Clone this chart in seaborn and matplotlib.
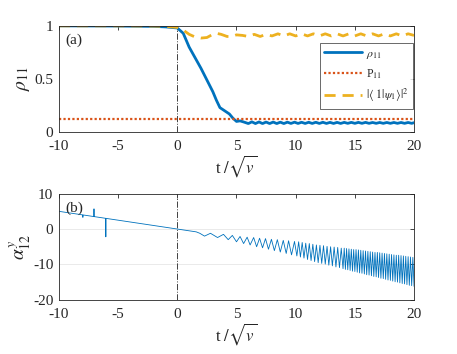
import numpy as np
import pandas as pd
import matplotlib
matplotlib.use("Agg")
import matplotlib.pyplot as plt
import seaborn as sns

# ---- panel (a) data ----
t_rho = [-10, -5, -2, -1, 0, 0.5, 1.0, 1.5, 2.0, 2.5, 3.0, 3.3, 3.6, 4.0, 4.4, 4.7, 5.0, 5.3, 5.6,
         6.0, 6.3, 6.6, 6.9, 7.2, 7.5, 7.8, 8.1, 8.4, 8.7, 9.0, 9.3, 9.6, 9.9, 10.2, 10.5, 10.8,
         11.1, 11.4, 11.7, 12.0, 12.3, 12.6, 12.9, 13.2, 13.5, 13.8, 14.1, 14.4, 14.7, 15.0,
         15.3, 15.6, 15.9, 16.2, 16.5, 16.8, 17.1, 17.4, 17.7, 18.0, 18.3, 18.6, 18.9, 19.2,
         19.5, 19.8, 20.0]
rho11 = [1.0, 0.998, 0.995, 0.99, 0.98, 0.93, 0.80, 0.70, 0.60, 0.49, 0.38, 0.30, 0.23, 0.20, 0.17,
         0.13, 0.10, 0.105, 0.095,
         0.080, 0.096, 0.080, 0.095, 0.080, 0.094, 0.080, 0.094, 0.080, 0.093, 0.080, 0.093,
         0.081, 0.093, 0.081, 0.092, 0.081, 0.092, 0.081, 0.092, 0.081, 0.092, 0.081, 0.091,
         0.081, 0.091, 0.081, 0.091, 0.082, 0.091, 0.082, 0.091, 0.082, 0.091, 0.082, 0.090,
         0.082, 0.090, 0.082, 0.090, 0.082, 0.090, 0.082, 0.090, 0.082, 0.090, 0.082, 0.088]

t_p11 = [-10, 20]
p11 = [0.125, 0.125]

t_ov = [-10, -5, -2, -1, 0, 0.5, 1.0, 1.5, 2.0, 2.5, 3.0, 3.3, 3.7, 4.2, 4.6, 5.0, 5.5, 6.0,
        6.5, 7.0, 7.5, 8.0, 8.5, 9.0, 9.5, 10.0, 10.5, 11.0, 11.5, 12.0, 12.5, 13.0, 13.5,
        14.0, 14.5, 15.0, 15.5, 16.0, 16.5, 17.0, 17.5, 18.0, 18.5, 19.0, 19.5, 20.0]
overlap = [1.0, 1.0, 0.998, 0.995, 0.985, 0.96, 0.92, 0.895, 0.885, 0.89, 0.92, 0.93, 0.92,
           0.90, 0.90, 0.915, 0.91, 0.90, 0.92, 0.90, 0.92, 0.905, 0.925, 0.905, 0.925, 0.905,
           0.925, 0.905, 0.925, 0.905, 0.925, 0.905, 0.925, 0.905, 0.925, 0.905, 0.925, 0.905,
           0.925, 0.905, 0.925, 0.905, 0.925, 0.905, 0.925, 0.91]

# ---- panel (b) data ----
# smooth drift before the oscillations (with the three glitches)
t_pre = [-10, -8.0, -7.98, -7.96, -7.06, -7.04, -7.02, -6.06, -6.04, -6.02, 0.0, 1.0, 1.6, 1.9]
a_pre = [5.0, 4.0, 3.3, 3.98, 3.53, 5.7, 3.51, 3.03, -2.2, 3.01, 0.0, -0.5, -0.8, -1.2]
# oscillation maxima
t_peaks = [2.8, 3.9, 4.65, 5.3, 5.9, 6.45, 6.95, 7.45, 7.95, 8.45, 8.95, 9.4, 9.9,
           10.25, 10.55, 10.85, 11.15, 11.45, 11.75, 12.05, 12.35, 12.65, 12.95, 13.25, 13.55,
           13.85, 14.1, 14.3, 14.5, 14.7, 14.9, 15.1, 15.3, 15.5, 15.7, 15.9, 16.1, 16.3, 16.5,
           16.7, 16.9, 17.1, 17.3, 17.5, 17.7, 17.9, 18.1, 18.3, 18.5, 18.7, 18.9, 19.1, 19.3,
           19.5, 19.7, 19.9]
a_peaks = [-1.2, -1.5, -1.8, -2.1, -2.3, -2.4, -2.6, -2.7, -2.9, -3.0, -3.2, -3.3, -3.5,
           -3.6, -3.8, -4.0, -4.1, -4.3, -4.5, -4.6, -4.7, -4.9, -5.0, -5.1, -5.2,
           -5.4, -5.4, -5.5, -5.6, -5.7, -5.8, -5.8, -5.9, -6.0, -6.1, -6.2, -6.3, -6.4, -6.5,
           -6.6, -6.6, -6.7, -6.8, -6.9, -7.0, -7.1, -7.2, -7.3, -7.4, -7.4, -7.5, -7.6, -7.7,
           -7.8, -7.9, -8.0]
# oscillation minima
t_troughs = [2.3, 3.4, 4.3, 5.0, 5.6, 6.15, 6.7, 7.2, 7.7, 8.2, 8.7, 9.2, 9.65, 10.1,
             10.4, 10.7, 11.0, 11.3, 11.6, 11.9, 12.2, 12.5, 12.8, 13.1, 13.4, 13.7, 14.0,
             14.2, 14.4, 14.6, 14.8, 15.0, 15.2, 15.4, 15.6, 15.8, 16.0, 16.2, 16.4, 16.6,
             16.8, 17.0, 17.2, 17.4, 17.6, 17.8, 18.0, 18.2, 18.4, 18.6, 18.8, 19.0, 19.2,
             19.4, 19.6, 19.8, 20.0]
a_troughs = [-2.0, -2.4, -3.0, -3.6, -4.1, -4.5, -5.0, -5.3, -5.7, -6.1, -6.5, -6.9, -7.3, -7.6,
             -7.9, -8.2, -8.6, -8.9, -9.2, -9.5, -9.7, -9.9, -10.2, -10.4, -10.7, -10.9, -11.2,
             -11.4, -11.5, -11.7, -11.9, -12.0, -12.2, -12.4, -12.5, -12.7, -12.9, -13.0, -13.2,
             -13.4, -13.5, -13.7, -13.9, -14.0, -14.2, -14.4, -14.5, -14.7, -14.9, -15.0, -15.2,
             -15.4, -15.5, -15.7, -15.9, -16.0, -16.2]

x_ticks = [-10, -5, 0, 5, 10, 15, 20]

blue = "#0072BD"
red = "#D95319"
yellow = "#EDB120"


def style_axes(ax):
    for s in ax.spines.values():
        s.set_color("#262626")
        s.set_linewidth(0.6)
    ax.tick_params(direction="in", top=True, right=True, length=3, width=0.6,
                   color="#262626", labelsize=11)
    ax.tick_params(axis="x", pad=6)
    ax.tick_params(axis="y", pad=4)
    ax.set_xlim(-10, 20)
    ax.set_xticks(x_ticks)
    ax.set_xticklabels([str(v) for v in x_ticks])
    ax.set_xlabel(r"t $/\sqrt{v}$", fontsize=12, labelpad=0)


def main():
    sns.set_theme(style="white")
    plt.rcParams["font.family"] = ["Liberation Serif", "DejaVu Serif"]
    plt.rcParams["mathtext.fontset"] = "stix"
    plt.rcParams["axes.unicode_minus"] = False

    fig = plt.figure(figsize=(4.57, 3.54), dpi=100)
    ax1 = fig.add_axes([0.129, 0.627, 0.777, 0.300])
    ax2 = fig.add_axes([0.129, 0.153, 0.777, 0.300])

    df_rho = pd.DataFrame({"t": t_rho, "v": rho11})
    df_p = pd.DataFrame({"t": t_p11, "v": p11})
    df_ov = pd.DataFrame({"t": t_ov, "v": overlap})
    df_a = pd.DataFrame({"t": t_pre + t_peaks + t_troughs,
                         "v": a_pre + a_peaks + a_troughs}).sort_values("t")

    # panel (a)
    ax1.axvline(0, color="#404040", lw=0.7, ls="-.")
    sns.lineplot(data=df_rho, x="t", y="v", ax=ax1, color=blue, lw=2.0,
                 estimator=None, label=r"$\rho_{11}$")
    sns.lineplot(data=df_p, x="t", y="v", ax=ax1, color=red, lw=1.6,
                 estimator=None, label=r"P$_{11}$")
    sns.lineplot(data=df_ov, x="t", y="v", ax=ax1, color=yellow, lw=2.0,
                 estimator=None, label=r"$|\langle\ 1|\psi_1\rangle|^2$")
    ax1.lines[-1].set_dashes([4, 2.5])
    ax1.lines[-2].set_linestyle((0, (1, 1)))
    style_axes(ax1)
    ax1.set_ylim(0, 1)
    ax1.set_yticks([0, 0.5, 1])
    ax1.set_yticklabels(["0", "0.5", "1"])
    ax1.set_ylabel(r"$\rho_{11}$", fontsize=14, labelpad=2)
    ax1.text(0.018, 0.93, "(a)", transform=ax1.transAxes, fontsize=11, va="top")
    leg = ax1.legend(loc="upper right", bbox_to_anchor=(0.997, 0.84), fontsize=8.5,
                     frameon=True, fancybox=False, handlelength=3.2, borderpad=0.4,
                     labelspacing=0.55, handletextpad=0.3, borderaxespad=0)
    leg.get_frame().set_edgecolor("#262626")
    leg.get_frame().set_linewidth(0.6)

    # panel (b)
    ax2.axhline(0, color="#e6e6e6", lw=0.6, zorder=0)
    ax2.axhline(-10, color="#e6e6e6", lw=0.6, zorder=0)
    ax2.axvline(0, color="#404040", lw=0.7, ls="-.")
    sns.lineplot(data=df_a, x="t", y="v", ax=ax2, color=blue, lw=0.6,
                 estimator=None, sort=False)
    style_axes(ax2)
    ax2.set_ylim(-20, 10)
    ax2.set_yticks([-20, -10, 0, 10])
    ax2.set_yticklabels(["-20", "-10", "0", "10"])
    ax2.set_ylabel(r"$\alpha_{12}^{y}$", fontsize=14, labelpad=0)
    ax2.text(0.018, 0.93, "(b)", transform=ax2.transAxes, fontsize=11, va="top")

    fig.savefig("out.png", dpi=100)
    plt.close(fig)


if __name__ == "__main__":
    main()
